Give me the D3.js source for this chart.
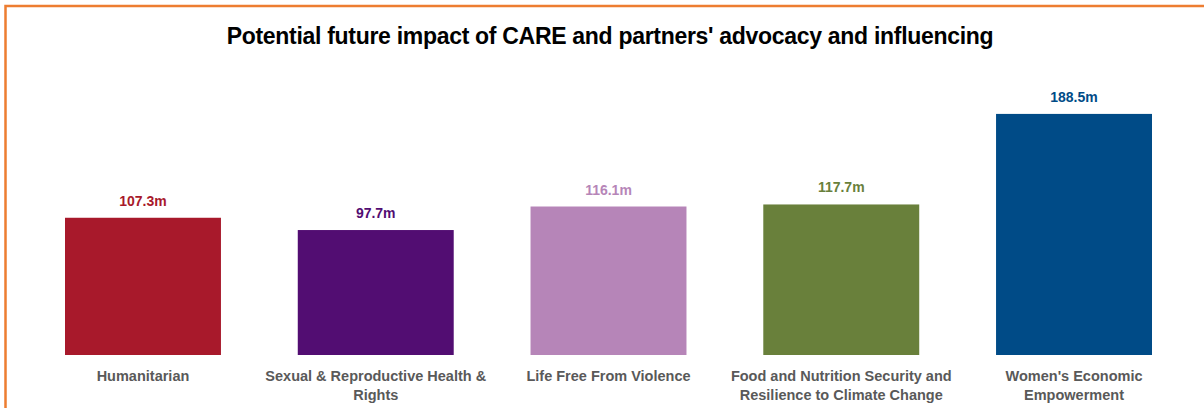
<!DOCTYPE html>
<html>
<head>
<meta charset="utf-8">
<script src="https://cdn.jsdelivr.net/npm/d3@7"></script>
<style>
  html, body { margin: 0; padding: 0; background: #fff; }
  svg { display: block; font-family: "Liberation Sans", Arial, sans-serif; }
</style>
</head>
<body>
<div id="chart"></div>
<script>
var width = 1204, height = 408;

// Chart data
var categories = [
  "Humanitarian",
  "Sexual & Reproductive Health & Rights",
  "Life Free From Violence",
  "Food and Nutrition Security and Resilience to Climate Change",
  "Women's Economic Empowerment"
];
var values = [107.3, 97.7, 116.1, 117.7, 188.5];
var valueLabels = ["107.3m", "97.7m", "116.1m", "117.7m", "188.5m"];
var barColors = ["#a8192b", "#520d72", "#b685b8", "#69803b", "#004b87"];
var title = "Potential future impact of CARE and partners' advocacy and influencing";

var svg = d3.select("#chart")
    .append("svg")
    .attr("width", width)
    .attr("height", height);

// Orange frame (runs off the right and bottom edges)
svg.append("rect")
  .attr("x", 5.5)
  .attr("y", 6)
  .attr("width", width + 20)
  .attr("height", height + 20)
  .attr("fill", "none")
  .attr("stroke", "#ed7d31")
  .attr("stroke-width", 2.5);

svg.append("text")
  .attr("x", 610)
  .attr("y", 44)
  .attr("text-anchor", "middle")
  .attr("font-size", 23)
  .attr("font-weight", "bold")
  .attr("letter-spacing", -0.3)
  .attr("fill", "#000")
  .text(title);

var x = d3.scaleBand()
    .domain(categories)
    .range([26.6, 1190.4])
    .paddingInner(0.33)
    .paddingOuter(0.165);

var y = d3.scaleLinear()
    .domain([0, 200])
    .range([355, 99.2]);

var bars = svg.selectAll("g.bar")
    .data(values)
    .enter()
      .append("g")
        .attr("class", "bar");

bars.append("rect")
  .attr("x", function(d, i) { return x(categories[i]); })
  .attr("y", function(d) { return y(d); })
  .attr("width", x.bandwidth())
  .attr("height", function(d) { return y(0) - y(d); })
  .attr("fill", function(d, i) { return barColors[i]; });

// Value labels above bars
bars.append("text")
  .attr("x", function(d, i) { return x(categories[i]) + x.bandwidth() / 2; })
  .attr("y", function(d) { return y(d) - 12; })
  .attr("text-anchor", "middle")
  .attr("font-size", 14)
  .attr("font-weight", "bold")
  .attr("fill", function(d, i) { return barColors[i]; })
  .text(function(d, i) { return valueLabels[i]; });

// Category labels, wrapped to fit under each bar
var maxLine = 226;
var catText = svg.selectAll("text.cat")
    .data(categories)
    .enter()
      .append("text")
        .attr("class", "cat")
        .attr("text-anchor", "middle")
        .attr("font-size", 14.5)
        .attr("font-weight", "bold")
        .attr("fill", "#595959");

catText.each(function(d) {
  var el = d3.select(this);
  var cx = x(d) + x.bandwidth() / 2;
  var words = d.split(" ");
  var line = [];
  var tspan = el.append("tspan").attr("x", cx).attr("y", 381);
  var lineNo = 0;
  words.forEach(function(w) {
    line.push(w);
    tspan.text(line.join(" "));
    if (tspan.node().getComputedTextLength() > maxLine && line.length > 1) {
      line.pop();
      tspan.text(line.join(" "));
      line = [w];
      lineNo++;
      tspan = el.append("tspan").attr("x", cx).attr("y", 381 + lineNo * 18.5).text(w);
    }
  });
});
</script>
</body>
</html>
